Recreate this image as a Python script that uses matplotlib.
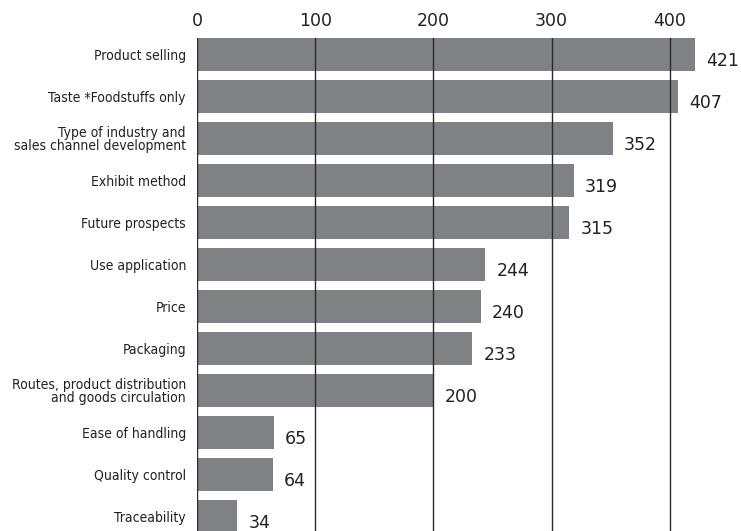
import matplotlib.pyplot as plt
import numpy as np

# Number of responses per item
categories = [
    "Product selling",
    "Taste *Foodstuffs only",
    "Type of industry and\nsales channel development",
    "Exhibit method",
    "Future prospects",
    "Use application",
    "Price",
    "Packaging",
    "Routes, product distribution\nand goods circulation",
    "Ease of handling",
    "Quality control",
    "Traceability",
]
values = [421, 407, 352, 319, 315, 244, 240, 233, 200, 65, 64, 34]
ticks = [0, 100, 200, 300, 400]

fig = plt.figure(figsize=(7.41, 5.31), dpi=100)
ax = fig.add_axes([197 / 741, 0, 1 - 197 / 741, 1 - 38 / 531])

y = np.arange(len(categories))
bar_h = 0.78
ax.barh(y, values, height=bar_h, color="#808184", zorder=1)

# vertical lines drawn over the bars
for t in ticks:
    ax.axvline(t, color="#2a2a2a", lw=1.0, zorder=2)

# value labels, sitting a bit below the bar centre
for yi, v in zip(y, values):
    ax.annotate(str(v), (v, yi), xytext=(8, -5), textcoords="offset points",
                ha="left", va="center", fontsize=12.5, color="#222222",
                family="DejaVu Sans", annotation_clip=False)

ax.set_xlim(0, (741 - 197) / 118.2 * 100)
ax.set_ylim(-bar_h / 2 + 493 / 42, -bar_h / 2)

ax.xaxis.tick_top()
ax.set_xticks(ticks)
ax.set_xticklabels([str(t) for t in ticks], fontsize=12.5, color="#222222")
ax.tick_params(axis="x", length=0, pad=6)

ax.set_yticks(y)
ax.set_yticklabels(categories, fontsize=10, family="DejaVu Sans",
                   fontstretch="condensed", color="#222222", linespacing=0.95)
ax.tick_params(axis="y", length=0, pad=8)

for s in ax.spines.values():
    s.set_visible(False)

fig.savefig("out.png", dpi=100)
